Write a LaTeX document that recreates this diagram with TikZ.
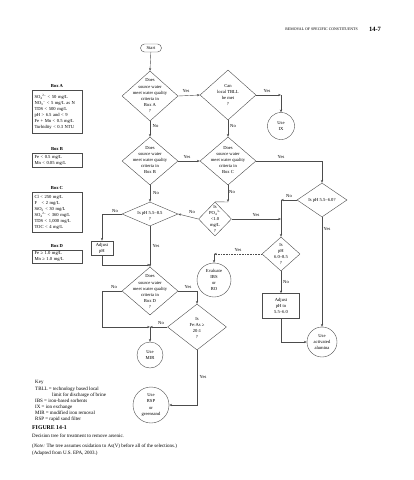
\documentclass[tikz,border=0pt]{standalone}
\usepackage{fontspec}
\setmainfont{Liberation Serif}
\usetikzlibrary{arrows.meta,shapes.geometric}
\begin{document}
\begin{tikzpicture}[x=1pt,y=-1pt,
  every node/.style={inner sep=0pt},
  ln/.style={draw=black!70, line width=0.4pt},
  arr/.style={ln, -{Stealth[length=2.8pt,width=2.2pt]}},
  dia/.style={shape=diamond, draw=black!70, line width=0.4pt, inner sep=0pt},
  dtxt/.style={font=\fontsize{4.6}{6.2}\selectfont, align=center},
  crc/.style={circle, draw=black!70, line width=0.4pt, font=\fontsize{4.6}{6.2}\selectfont, align=center},
  rbox/.style={rectangle, draw=black!70, line width=0.5pt, font=\fontsize{4.6}{6.2}\selectfont, align=center},
  lbl/.style={font=\fontsize{4.6}{5}\selectfont},
  cbox/.style={rectangle, draw=black!70, line width=0.5pt, minimum width=50pt, text width=45pt, align=left, font=\fontsize{4.6}{6.0}\selectfont, inner xsep=2.5pt},
  ctitle/.style={font=\bfseries\fontsize{4.6}{5}\selectfont},
  keytxt/.style={font=\fontsize{5}{6}\selectfont, anchor=west},
]
\useasboundingbox (0,0) rectangle (413,480);

% header
\node[font=\fontsize{3.9}{4}\selectfont, anchor=east] (hdr) at (358,29) {REMOVAL OF SPECIFIC CONSTITUENTS};
\node[font=\bfseries\fontsize{6.5}{7}\selectfont] (pg) at (375,29) {14-7};

% start
\node[rectangle, rounded corners=4pt, draw=black!70, line width=0.4pt, minimum width=21pt, minimum height=8pt, font=\fontsize{4.6}{5}\selectfont] (start) at (151,48) {Start};

% diamonds
\node[dia, minimum width=56pt, minimum height=50pt] (d1) at (150,96) {};
\node[dtxt] (d1t) at (150,96) {Does\\source water\\meet water quality\\criteria in\\Box A\\?};
\node[dia, minimum width=56pt, minimum height=50pt] (d2) at (228,95) {};
\node[dtxt] (d2t) at (228,95) {Can\\local TBLL\\be met\\?};
\node[dia, minimum width=56pt, minimum height=48pt] (d3) at (150,161) {};
\node[dtxt] (d3t) at (150,160) {Does\\source water\\meet water quality\\criteria in\\Box B};
\node[dia, minimum width=56pt, minimum height=48pt] (d4) at (228,161) {};
\node[dtxt] (d4t) at (228,160) {Does\\source water\\meet water quality\\criteria in\\Box C};
\node[dia, minimum width=56pt, minimum height=24pt] (ph1) at (150,214) {};
\node[dtxt] (ph1t) at (150,216) {Is pH 5.5–8.5\\?};
\node[dia, minimum width=33pt, minimum height=34pt] (po4) at (215,219) {};
\node[dtxt] (po4t) at (215,219) {Is\\PO\textsubscript{4}\textsuperscript{3–}\\<1.0\\mg/L\\?};
\node[dia, minimum width=50pt, minimum height=34pt] (d5) at (322,200) {};
\node[dtxt] (d5t) at (322,200) {Is pH 5.5–6.0?};
\node[dia, minimum width=38pt, minimum height=34pt] (ph3) at (281,254) {};
\node[dtxt] (ph3t) at (281,254) {Is\\pH\\6.0–8.5\\?};
\node[dia, minimum width=56pt, minimum height=48pt] (d6) at (150,291) {};
\node[dtxt] (d6t) at (150,292) {Does\\source water\\meet water quality\\criteria in\\Box D\\?};
\node[dia, minimum width=59pt, minimum height=46pt] (fe) at (197,327) {};
\node[dtxt] (fet) at (197,328) {Is\\Fe:As ≥\\20:1\\?};

% circles
\node[crc, minimum size=27pt] (ix) at (281,126) {Use\\IX};
\node[crc, minimum size=34pt] (eval) at (214,280) {Evaluate\\IBS\\or\\RO};
\node[crc, minimum size=30pt] (aa) at (322,342) {Use\\activated\\alumina};
\node[crc, minimum size=26pt] (mir) at (150,355) {Use\\MIR};
\node[crc, minimum size=36pt] (rsp) at (151,405) {Use\\RSP\\or\\greensand};

% rectangles
\node[rbox, minimum width=22pt, minimum height=14pt] (adj1) at (102,248) {Adjust\\pH};
\node[rbox, minimum width=37pt, minimum height=25pt] (adj2) at (281,306) {Adjust\\pH to\\5.5–6.0};

% criteria boxes
\node[ctitle] (ta) at (57,86) {Box A};
\node[cbox, minimum height=43pt] (ba) at (57,111.5) {SO\textsubscript{4}\textsuperscript{2–} < 50 mg/L\\NO\textsubscript{3}\textsuperscript{–} < 5 mg/L as N\\TDS < 500 mg/L\\pH > 6.5 and < 9\\Fe + Mn < 0.5 mg/L\\Turbidity < 0.3 NTU};
\node[ctitle] (tb) at (57,149) {Box B};
\node[cbox, minimum height=14pt] (bb) at (57,160) {Fe < 0.5 mg/L\\Mn < 0.05 mg/L};
\node[ctitle] (tc) at (57,188) {Box C};
\node[cbox, minimum height=40pt] (bc) at (57,212) {Cl < 250 mg/L\\F \ \ < 2 mg/L\\SiO\textsubscript{2} < 30 mg/L\\SO\textsubscript{4}\textsuperscript{2–} < 360 mg/L\\TDS < 1,000 mg/L\\TOC < 4 mg/L};
\node[ctitle] (td) at (57,246) {Box D};
\node[cbox, minimum height=13pt] (bd) at (57,256.5) {Fe ≥ 1.0 mg/L\\Mn ≥ 1.0 mg/L};

% junction coordinates
\coordinate (c1) at (281,95);
\coordinate (c2) at (322,161);
\coordinate (c3) at (228,202);
\coordinate (c4) at (281,219);
\coordinate (c5) at (281,200);
\coordinate (c6) at (281,342);
\coordinate (c7) at (214,254);
\coordinate (c8) at (102,214);
\coordinate (c9) at (102,265);
\coordinate (j1) at (150,265);
\coordinate (c10) at (102,291);
\coordinate (c11) at (102,327);
\coordinate (j2) at (150,327);
\coordinate (c12) at (197,291);
\coordinate (c13) at (197,405);

% connectors
\draw[arr] (start) -- (d1.north);
\draw[arr] (d1.east) -- (d2.west);
\draw[arr] (d2.east) -- (c1);
\draw[arr] (c1) -- (ix.north);
\draw[arr] (d1.south) -- (d3.north);
\draw[arr] (d2.south) -- (d4.north);
\draw[arr] (d3.east) -- (d4.west);
\draw[arr] (d4.east) -- (c2) -- (d5.north);
\draw[arr] (d3.south) -- (ph1.north);
\draw[arr] (d4.south) -- (c3);
\draw[ln] (c3) -- (po4.north);
\draw[arr] (po4.west) -- (ph1.east);
\draw[arr] (po4.east) -- (c4);
\draw[arr] (c4) -- (ph3.north);
\draw[arr] (d5.west) -- (c5);
\draw[ln] (c5) -- (c4);
\draw[arr] (d5.south) -- (aa.north);
\draw[arr] (ph3.south) -- (adj2.north);
\draw[arr] (adj2.south) -- (c6) -- (aa.west);
\draw[arr, dash pattern=on 0.8pt off 0.8pt] (ph3.west) -- (c7);
\draw[arr] (c7) -- (eval.north);
\draw[arr] (ph1.west) -- (c8) -- (adj1.north);
\draw[arr] (ph1.south) -- (d6.north);
\draw[arr] (adj1.south) -- (c9) -- (j1);
\draw[arr] (d6.west) -- (c10) -- (c11) -- (j2);
\draw[arr] (d6.east) -- (c12) -- (fe.north);
\draw[arr] (fe.west) -- (j2);
\draw[arr] (j2) -- (mir.north);
\draw[arr] (fe.south) -- (c13) -- (rsp.east);

% connector labels
\node[lbl] (y1) at (186,91) {Yes};
\node[lbl] (y2) at (267,91) {Yes};
\node[lbl] (n1) at (155.5,126) {No};
\node[lbl] (n2) at (233,126) {No};
\node[lbl] (y3) at (187,157) {Yes};
\node[lbl] (y4) at (281,157) {Yes};
\node[lbl] (n3) at (156,193) {No};
\node[lbl] (n4) at (232,192) {No};
\node[lbl] (n5) at (192,212) {No};
\node[lbl] (y5) at (256,215) {Yes};
\node[lbl] (n6) at (289,196) {No};
\node[lbl] (y6) at (327,229) {Yes};
\node[lbl] (n7) at (286,282) {No};
\node[lbl] (y7) at (238,250) {Yes};
\node[lbl] (n8) at (115,211) {No};
\node[lbl] (y8) at (156,246) {Yes};
\node[lbl] (n9) at (114,287) {No};
\node[lbl] (y9) at (188,287) {Yes};
\node[lbl] (n10) at (161,323) {No};
\node[lbl] (y10) at (203,377) {Yes};

% key and caption
\node[keytxt] (k0) at (35,382) {Key};
\node[keytxt] (k1) at (35,389) {TBLL = technology based local};
\node[keytxt] (k2) at (52,395) {limit for discharge of brine};
\node[keytxt] (k3) at (35,401) {IBS = iron-based sorbents};
\node[keytxt] (k4) at (35,407) {IX = ion exchange};
\node[keytxt] (k5) at (35,413) {MIR = modified iron removal};
\node[keytxt] (k6) at (35,419) {RSP = rapid sand filter};
\node[anchor=west, font=\bfseries\fontsize{5.8}{7}\selectfont] (fig) at (32,428) {FIGURE 14-1};
\node[keytxt] (cap) at (32,436) {Decision tree for treatment to remove arsenic.};
\node[keytxt] (note) at (32,446) {(\textit{Note:} The tree assumes oxidation to As(V) before all of the selections.)};
\node[keytxt] (src) at (32,453) {(Adapted from U.S. EPA, 2003.)};
\end{tikzpicture}
\end{document}
